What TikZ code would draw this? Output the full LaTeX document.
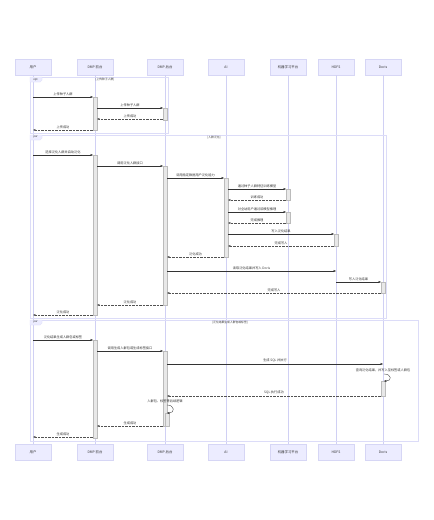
\documentclass[tikz,border=0pt]{standalone}
\usepackage{fontspec}
\setmainfont{Noto Sans CJK SC}
\usetikzlibrary{arrows.meta,calc}
\definecolor{actfill}{HTML}{ECECFF}
\definecolor{actdraw}{HTML}{D6D6F5}
\definecolor{lifecol}{HTML}{D0D0F4}
\definecolor{framecol}{HTML}{DCDCF8}
\definecolor{txt}{HTML}{333333}
\definecolor{barfill}{HTML}{E8E8E8}
\definecolor{bardraw}{HTML}{BBBBBB}
\tikzset{
  actor/.style={draw=actdraw,fill=actfill,line width=0.4pt,minimum width=36pt,minimum height=16pt,inner sep=0pt,font=\fontsize{3.4}{4}\selectfont,text=txt},
  life/.style={draw=lifecol,line width=0.5pt},
  frm/.style={draw=framecol,line width=0.5pt},
  tab/.style={fill=actfill,draw=framecol,line width=0.3pt},
  tabtxt/.style={font=\fontsize{2.8}{3}\selectfont,text=txt,inner sep=0pt},
  lbl/.style={font=\fontsize{3.2}{4}\selectfont,text=txt,inner sep=1.3pt,above},
  msgs/.style={draw=txt,line width=0.35pt,-{Triangle[length=2.4pt,width=2pt]}},
  msgd/.style={msgs,draw=txt!85,dash pattern=on 0.7pt off 0.7pt},
  bar/.style={fill=barfill,draw=bardraw,line width=0.3pt},
}
\newcommand\mymsg[7]{\draw[#1] ($(#2|-r#6)+(#3,0)$) -- node[lbl]{#7} ($(#4|-r#6)+(#5,0)$);}
\newcommand\mybar[4]{\draw[bar] ($(#1|-r#2)+(#4-2,0)$) rectangle ($(#1|-r#3)+(#4+2,0)$);}
\begin{document}
\begin{tikzpicture}[x=1pt,y=-1pt]
\useasboundingbox[fill=white] (0,0) rectangle (434,520);
% row coordinates
\foreach \y in {97,108,119,120,130,155,166,178,189,200,212,223,234,246,257,271,282,293,305,315,340,351,364,374,381,396,405,413,426,437,438}
  \coordinate (r\y) at (0,\y);
% actors
\foreach \n/\x/\t in {u/33/用户,f/95/DMP 前台,b/165/DMP 后台,a/226/AI,m/288/机器学习平台,h/336/HDFS,d/383/Doris}{
  \node[actor] (\n) at (\x,67) {\t};
  \node[actor] (\n B) at (\x,452) {\t};
  \draw[life] (\n) -- (\n B);
}
% frames
\draw[frm] (30,77) rectangle (168,133);
\draw[tab] (30,77) -- (42,77) -- (42,80) -- (40,82) -- (30,82) -- cycle;
\node[tabtxt] (t1) at (35.5,79.5) {opt};
\node[tabtxt] (l1) at (105,79.5) {[上传种子人群]};
\draw[frm] (30,135) rectangle (386,318);
\draw[tab] (30,135) -- (42,135) -- (42,138) -- (40,140) -- (30,140) -- cycle;
\node[tabtxt] (t2) at (35.5,137.5) {par};
\node[tabtxt] (l2) at (214,137.5) {[人群泛化]};
\draw[frm] (30,320) rectangle (418,441);
\draw[tab] (30,320) -- (42,320) -- (42,323) -- (40,325) -- (30,325) -- cycle;
\node[tabtxt] (t3) at (35.5,322.5) {par};
\node[tabtxt] (l3) at (230,322.5) {[泛化结果生成人群包或标签]};
% activation bars
\mybar{f}{97}{130}{0}
\mybar{b}{108}{120}{0}
\mybar{f}{155}{315}{0}
\mybar{b}{166}{305}{0}
\mybar{a}{178}{257}{0}
\mybar{m}{189}{200}{0}
\mybar{m}{212}{223}{0}
\mybar{h}{234}{246}{0}
\mybar{d}{282}{293}{0}
\mybar{f}{340}{438}{0}
\mybar{b}{351}{426}{0}
\mybar{d}{381}{396}{0}
\mybar{b}{413}{426}{2}
% messages: opt
\mymsg{msgs}{u}{0}{f}{-2}{97}{上传种子人群}
\mymsg{msgs}{f}{2}{b}{-2}{108}{上传种子人群}
\mymsg{msgd}{b}{-2}{f}{2}{119}{上传成功}
\mymsg{msgd}{f}{-2}{u}{0}{130}{上传成功}
% par 1
\mymsg{msgs}{u}{0}{f}{-2}{155}{选择泛化人群并启动泛化}
\mymsg{msgs}{f}{2}{b}{-2}{166}{调用泛化人群接口}
\mymsg{msgs}{b}{2}{a}{-2}{178}{调用指定数据用户泛化能力}
\mymsg{msgs}{a}{2}{m}{-2}{189}{通过种子人群特征训练模型}
\mymsg{msgd}{m}{-2}{a}{2}{200}{训练成功}
\mymsg{msgs}{a}{2}{m}{-2}{212}{对全站用户通过该模型推理}
\mymsg{msgd}{m}{-2}{a}{2}{223}{完成推理}
\mymsg{msgs}{a}{2}{h}{-2}{234}{写入泛化结果}
\mymsg{msgd}{h}{-2}{a}{2}{246}{完成写入}
\mymsg{msgd}{a}{-2}{b}{2}{257}{泛化成功}
\mymsg{msgs}{b}{2}{h}{0}{271}{读取泛化结果并写入 Doris}
\mymsg{msgs}{h}{0}{d}{-2}{282}{写入泛化结果}
\mymsg{msgd}{d}{-2}{b}{2}{293}{完成写入}
\mymsg{msgd}{b}{-2}{f}{2}{305}{泛化成功}
\mymsg{msgd}{f}{-2}{u}{0}{315}{泛化成功}
% par 2
\mymsg{msgs}{u}{0}{f}{-2}{340}{泛化结果生成人群包或标签}
\mymsg{msgs}{f}{2}{b}{-2}{351}{调用生成人群包或生成标签接口}
\mymsg{msgs}{b}{2}{d}{0}{364}{生成 SQL 并执行}
\node[lbl,anchor=south] (sl1) at ($(d|-r374)+(0,-1)$) {查询泛化结果，并写入至标签或人群包};
\draw[msgs] ($(d|-r374)+(1,0)$) .. controls ($(d|-r374)+(9,0)$) and ($(d|-r381)+(9,0)$) .. ($(d|-r381)+(1,0)$);
\mymsg{msgd}{d}{-2}{b}{2}{396}{SQL 执行成功}
\node[lbl,anchor=south] (sl2) at ($(b|-r405)+(0,-1)$) {人群包、标签等后续逻辑};
\draw[msgs] ($(b|-r405)+(2,0)$) .. controls ($(b|-r405)+(10,0)$) and ($(b|-r413)+(10,0)$) .. ($(b|-r413)+(2,0)$);
\mymsg{msgd}{b}{-2}{f}{2}{426}{生成成功}
\mymsg{msgd}{f}{-2}{u}{0}{437}{生成成功}
\end{tikzpicture}
\end{document}
